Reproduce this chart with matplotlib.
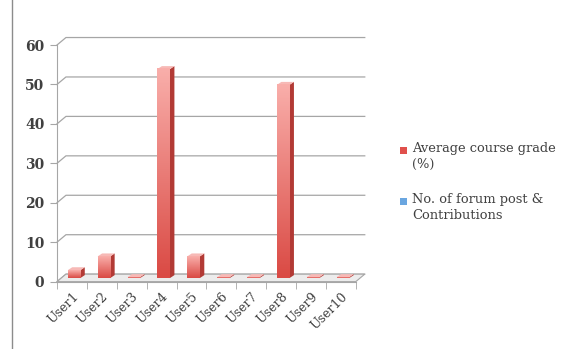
import numpy as np
import matplotlib
matplotlib.use("Agg")
import matplotlib.pyplot as plt
from matplotlib.patches import Polygon, Rectangle

users = ["User1", "User2", "User3", "User4", "User5",
         "User6", "User7", "User8", "User9", "User10"]
grade = [2, 5.5, 0, 53, 5.5, 0, 0, 49, 0, 0]
posts = [0, 0, 0, 0, 0, 0, 0, 0, 0, 0]
yticks = [0, 10, 20, 30, 40, 50, 60]
series = ["Average course grade\n(%)", "No. of forum post &\nContributions"]
series_colors = ["#e0504c", "#6aa6e0"]

plt.rcParams['font.family'] = ['DejaVu Serif']

fig = plt.figure(figsize=(5.67, 3.49), dpi=100)
ax = fig.add_axes([0.1005, 0.193, 0.527, 0.678])
ax.set_xlim(-0.5, 9.5)
ax.set_ylim(0, 60)

# depth of the 3d box in data units (about 9px across, 7.5px up)
dx, dy = 0.30, 1.9
grid_c = "#a6a6a6"

# floor
floor = Polygon([(-0.5, 0), (9.5, 0), (9.5 + dx, dy), (-0.5 + dx, dy)],
                closed=True, facecolor="#ececec", edgecolor=grid_c,
                lw=0.8, clip_on=False, zorder=1)
ax.add_patch(floor)

# back wall gridlines
for v in yticks:
    ax.plot([-0.5, -0.5 + dx, 9.5 + dx], [v, v + dy, v + dy],
            color=grid_c, lw=0.9, clip_on=False, zorder=0)

# bars of the grade series, pseudo 3d
x = np.arange(len(users))
w = 0.42
fx, fy = 0.07, 0.9     # front face shift into the depth
sx, sy = 0.15, 0.75    # side / top depth
grad = np.linspace(0, 1, 100).reshape(-1, 1)
cmap = matplotlib.colors.LinearSegmentedColormap.from_list(
    "bar", ["#da4a44", "#f9aeaa"])
for xi, v in zip(x, grade):
    h = max(v, 0.25)
    x0 = xi + fx - w / 2
    y0 = fy
    bar = ax.bar(xi + fx, h, width=w, bottom=y0, color="#e46560",
                 edgecolor="none", zorder=3, clip_on=False)[0]
    im = ax.imshow(grad, cmap=cmap, aspect="auto", origin="lower",
                   extent=[x0, x0 + w, y0, y0 + h], zorder=3.1,
                   clip_on=False)
    im.set_clip_path(bar)
    side = Polygon([(x0 + w, y0), (x0 + w + sx, y0 + sy),
                    (x0 + w + sx, y0 + h + sy), (x0 + w, y0 + h)],
                   closed=True, facecolor="#b23a35", edgecolor="none",
                   zorder=3, clip_on=False)
    top = Polygon([(x0, y0 + h), (x0 + w, y0 + h),
                   (x0 + w + sx, y0 + h + sy), (x0 + sx, y0 + h + sy)],
                  closed=True, facecolor="#f7b9b6", edgecolor="none",
                  zorder=3, clip_on=False)
    ax.add_patch(side)
    ax.add_patch(top)
ax.set_xlim(-0.5, 9.5)
ax.set_ylim(0, 60)

# axes styling
for s in ["top", "right"]:
    ax.spines[s].set_visible(False)
ax.spines["left"].set_color(grid_c)
ax.spines["bottom"].set_color(grid_c)
ax.set_facecolor("none")
ax.set_yticks(yticks)
ax.set_yticklabels([str(t) for t in yticks], fontsize=10, fontweight="bold",
                   color="#404040")
ax.tick_params(axis="y", length=5, color=grid_c, pad=4)
ax.set_xticks(x)
ax.set_xticks(np.arange(-0.5, 10, 1), minor=True)
ax.set_xticklabels(users, rotation=45, ha="right", rotation_mode="anchor",
                   fontsize=9, color="#404040")
ax.tick_params(axis="x", which="major", length=0, pad=6)
ax.tick_params(axis="x", which="minor", length=5, color=grid_c)

# legend, drawn by hand so the marker sits on the first text line
W, H = 567.0, 349.0
for i, (lab, col) in enumerate(zip(series, series_colors)):
    yc = 150 + i * 51
    fig.patches.append(Rectangle((400 / W, 1 - (yc + 3.5) / H), 7 / W, 7 / H,
                                 transform=fig.transFigure, facecolor=col,
                                 edgecolor="none"))
    fig.text(412 / W, 1 - (yc - 8) / H, lab, fontsize=9.4, color="#404040",
             va="top", ha="left", linespacing=1.3)

# left frame line
fig.add_artist(plt.Line2D([0.021, 0.021], [0.0, 1.0], color="#8c8c8c",
                          lw=1.0))

fig.savefig("out.png", dpi=100)
